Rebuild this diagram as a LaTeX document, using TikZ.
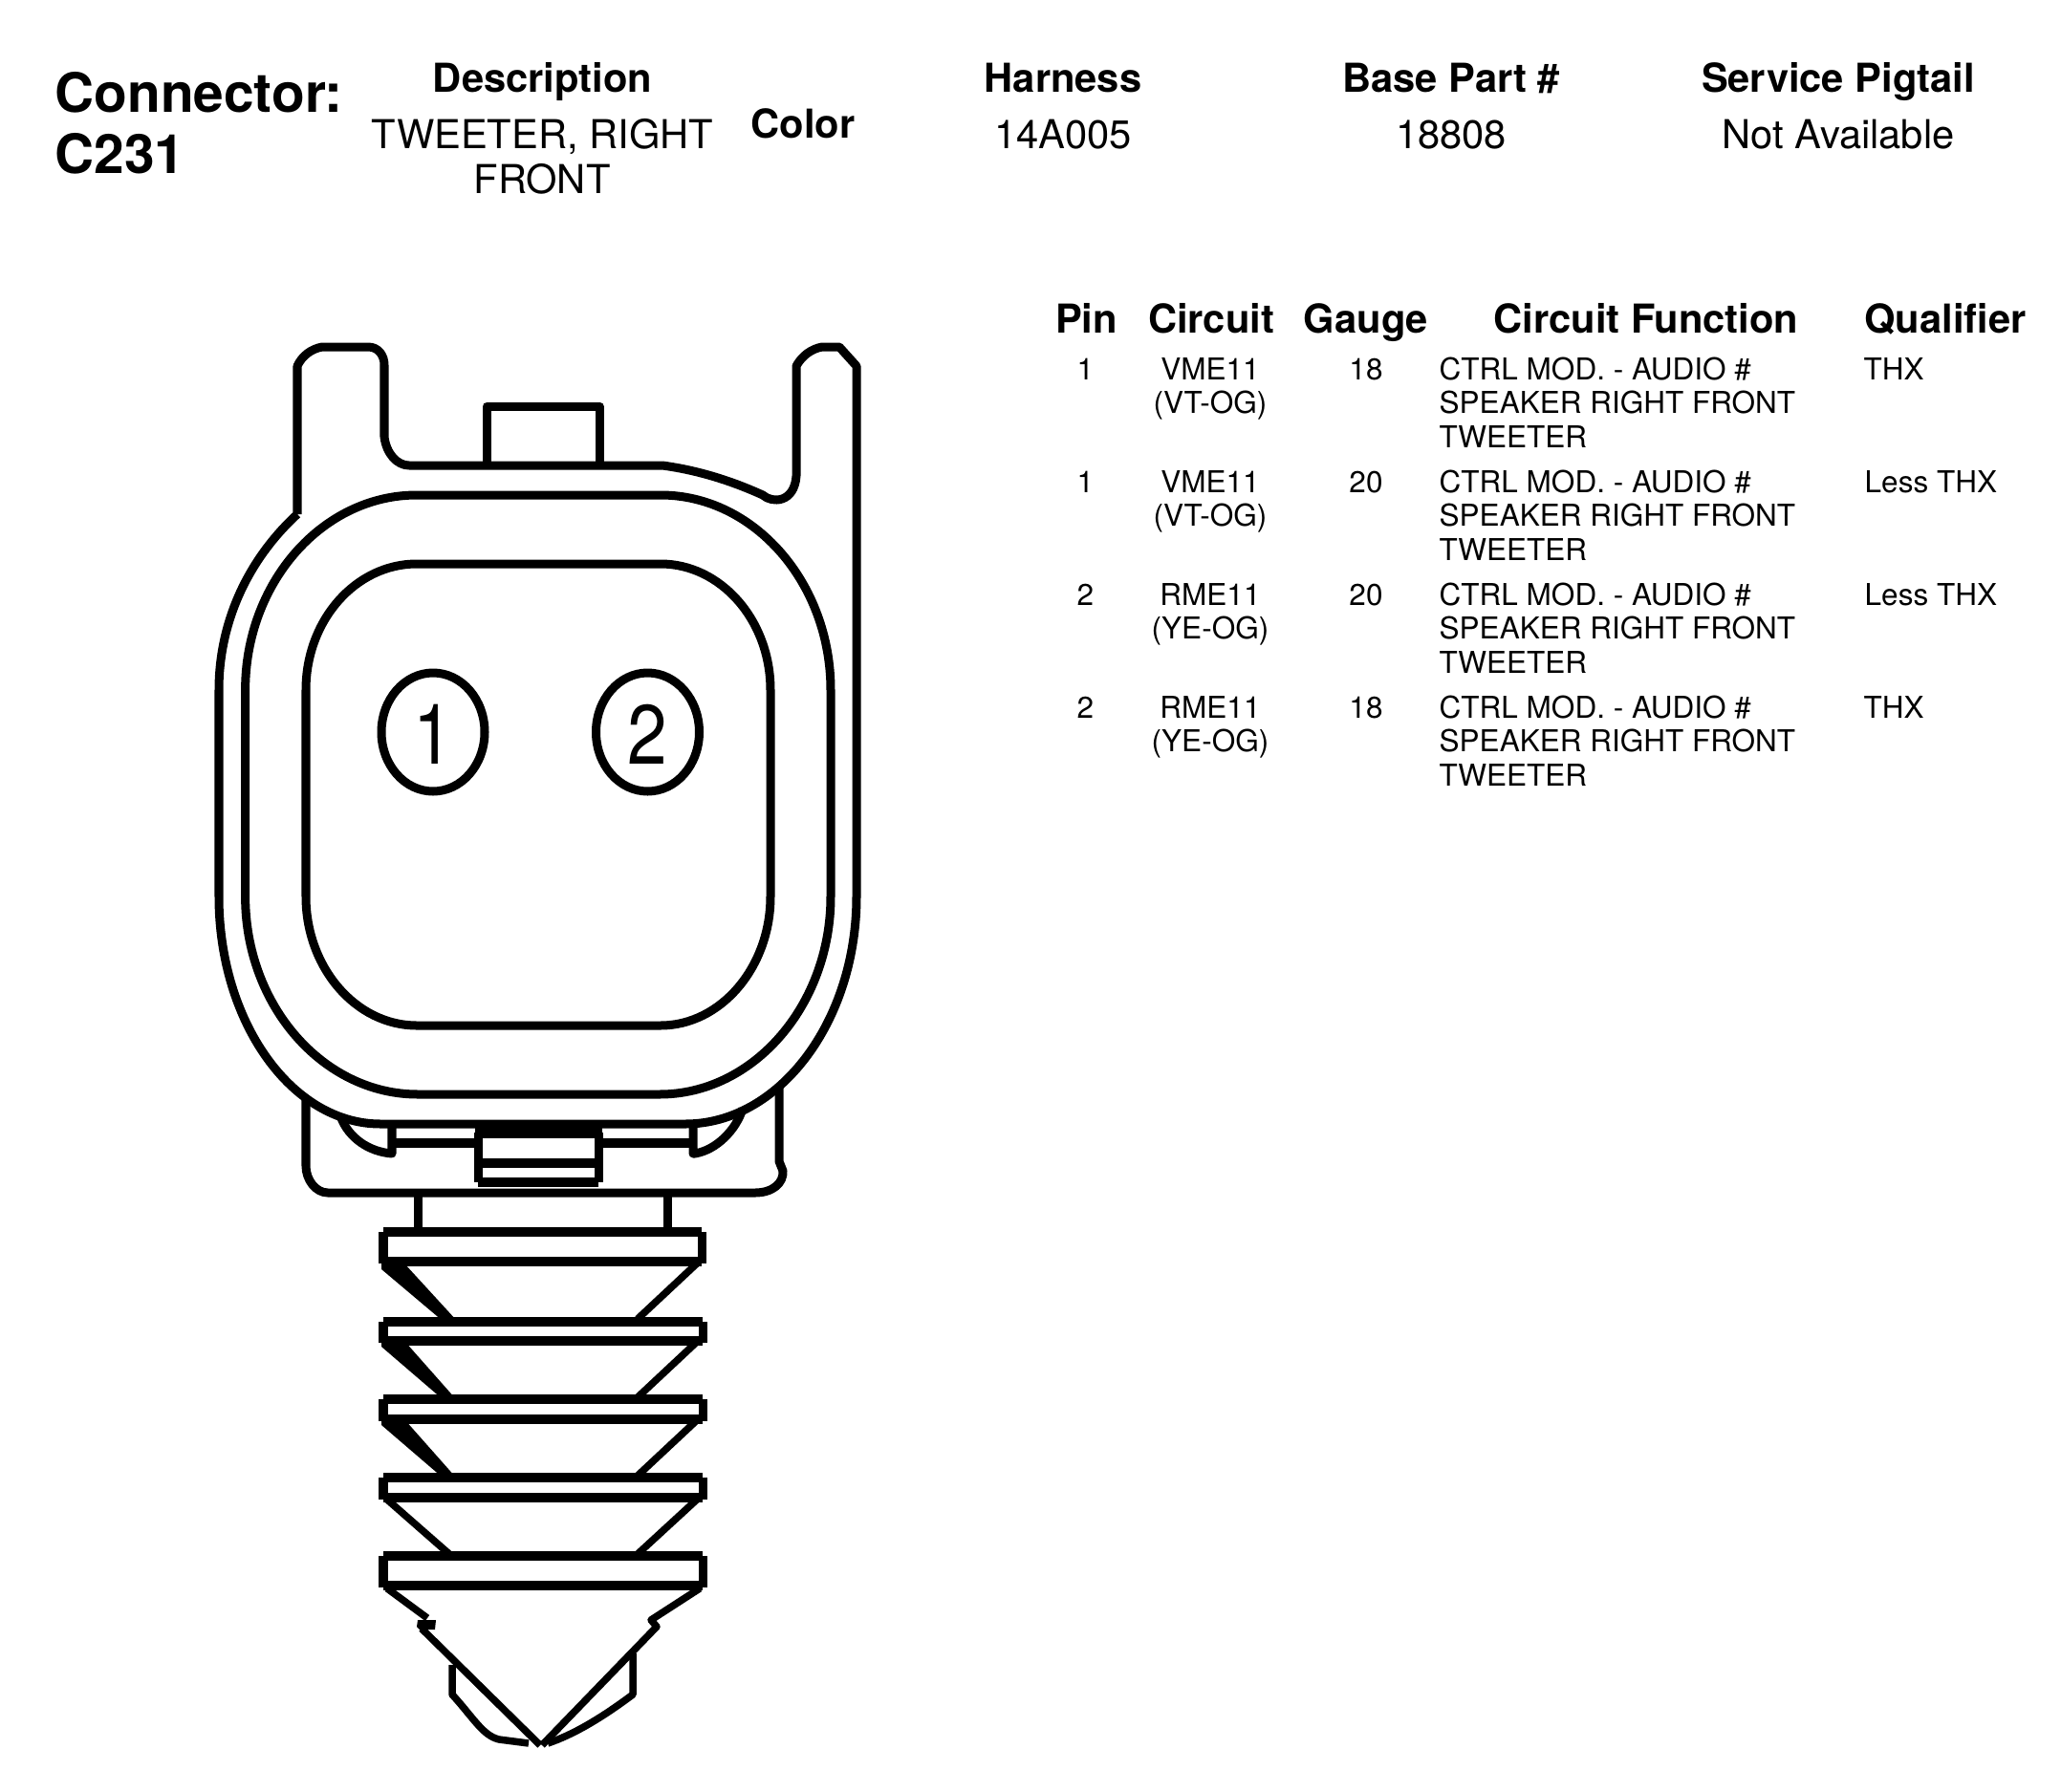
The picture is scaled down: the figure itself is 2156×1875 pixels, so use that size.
\documentclass[tikz,border=0pt]{standalone}
\usepackage{fontspec}
\usepackage{graphicx}
\setmainfont{TeX Gyre Heros}
\tikzset{
  x=0.01cm,y=-0.01cm,
  ln/.style={line width=0.09cm,line join=round,black},
  thk/.style={line width=0.1cm,black},
  thn/.style={line width=0.075cm,line join=round,black},
  title/.style={anchor=base west,inner sep=0,font=\fontsize{16.15}{18}\selectfont\bfseries},
  head/.style={anchor=base,inner sep=0,font=\fontsize{11.85}{14}\selectfont\bfseries},
  val/.style={anchor=base,inner sep=0,font=\fontsize{11.85}{14}\selectfont},
  cell/.style={anchor=base,inner sep=0,font=\fontsize{8.96}{11}\selectfont},
  lcell/.style={anchor=base west,inner sep=0,font=\fontsize{8.96}{11}\selectfont},
  digit/.style={anchor=base,inner sep=0,font=\fontsize{25}{27}\selectfont},
}
\begin{document}
\begin{tikzpicture}
\useasboundingbox (0,0) rectangle (2156,1875);
% header
\node[title] (tconn) at (57,117.5) {Connector:};
\node[title] (tc231) at (57,181) {C231};
\node[head] (hdesc) at (567.5,96) {Description};
\node[val] (vdesc1) at (567.5,155) {TWEETER, RIGHT};
\node[val] (vdesc2) at (567,202) {FRONT};
\node[head,anchor=base west] (hcolor) at (785,144.5) {Color};
\node[head] (hharn) at (1112,96) {Harness};
\node[val] (vharn) at (1112,155) {14A005};
\node[head] (hbase) at (1518,96) {Base Part \#};
\node[val] (vbase) at (1518,155) {18808};
\node[head] (hserv) at (1923,96) {Service Pigtail};
\node[val] (vserv) at (1923,155) {Not Available};
% table head
\node[head] (hpin) at (1136.5,348) {Pin};
\node[head] (hcir) at (1267,348) {Circuit};
\node[head] (hgau) at (1429,348) {Gauge};
\node[head] (hfun) at (1722,348) {Circuit Function};
\node[head] (hqua) at (2035,348) {Qualifier};
% rows
\node[cell] (p1) at (1135.5,397) {1};
\node[cell] (c1a) at (1266,397) {VME11};
\node[cell] (c1b) at (1266,432) {(VT-OG)};
\node[cell] (g1) at (1429,397) {18};
\node[lcell] (f1a) at (1505,397) {CTRL MOD. - AUDIO \#};
\node[lcell] (f1b) at (1505,432) {SPEAKER RIGHT FRONT};
\node[lcell] (f1c) at (1505,468) {TWEETER};
\node[lcell] (q1) at (1949,397) {THX};
\node[cell] (p2) at (1135.5,515.5) {1};
\node[cell] (c2a) at (1266,515.5) {VME11};
\node[cell] (c2b) at (1266,550) {(VT-OG)};
\node[cell] (g2) at (1429,515.5) {20};
\node[lcell] (f2a) at (1505,515.5) {CTRL MOD. - AUDIO \#};
\node[lcell] (f2b) at (1505,550) {SPEAKER RIGHT FRONT};
\node[lcell] (f2c) at (1505,586) {TWEETER};
\node[lcell] (q2) at (1950,515.5) {Less THX};
\node[cell] (p3) at (1135.5,633.5) {2};
\node[cell] (c3a) at (1266,633.5) {RME11};
\node[cell] (c3b) at (1266,668.5) {(YE-OG)};
\node[cell] (g3) at (1429,633.5) {20};
\node[lcell] (f3a) at (1505,633.5) {CTRL MOD. - AUDIO \#};
\node[lcell] (f3b) at (1505,668.5) {SPEAKER RIGHT FRONT};
\node[lcell] (f3c) at (1505,704) {TWEETER};
\node[lcell] (q3) at (1950,633.5) {Less THX};
\node[cell] (p4) at (1135.5,751.5) {2};
\node[cell] (c4a) at (1266,751.5) {RME11};
\node[cell] (c4b) at (1266,786.5) {(YE-OG)};
\node[cell] (g4) at (1429,751.5) {18};
\node[lcell] (f4a) at (1505,751.5) {CTRL MOD. - AUDIO \#};
\node[lcell] (f4b) at (1505,786.5) {SPEAKER RIGHT FRONT};
\node[lcell] (f4c) at (1505,822) {TWEETER};
\node[lcell] (q4) at (1949,751.5) {THX};
% connector housing: top tabs and right side
\draw[ln] (311,538) -- (311,383) .. controls (316,372) and (326,365) .. (337,363) -- (385,363)
  .. controls (396,363) and (402,372) .. (402,382) -- (402,457)
  .. controls (404,474) and (415,487) .. (428,487) -- (693,487)
  .. controls (730,492) and (765,503) .. (798,518)
  .. controls (808,527) and (831,526) .. (833,498) -- (833,383)
  .. controls (839,372) and (849,365) .. (860,363) -- (878,363) -- (896,383) -- (896,938)
  .. controls (896,1069) and (815,1176) .. (717,1176) -- (398,1176)
  .. controls (305,1176) and (229,1069) .. (229,938) -- (229,722)
  .. controls (229,650) and (260,585) .. (311,538);
% key
\draw[ln] (509,487) -- (509,425) -- (627,425) -- (627,487);
% middle shell
\draw[ln] (436,518) -- (691,518) .. controls (789,518) and (869,610) .. (869,722) -- (869,938)
  .. controls (869,1052) and (788,1145) .. (690,1145) -- (437,1145)
  .. controls (338,1145) and (256.6,1052) .. (256.6,938) -- (256.6,722)
  .. controls (256.6,610) and (337,518) .. (436,518) -- cycle;
% inner cavity
\draw[ln] (436,590) -- (691,590) .. controls (754,590) and (806,649) .. (806,722) -- (806,938)
  .. controls (806,1012) and (754,1073) .. (691,1073) -- (436,1073)
  .. controls (372,1073) and (320,1012) .. (320,938) -- (320,722)
  .. controls (320,649) and (372,590) .. (436,590) -- cycle;
% pins
\draw[ln] (453,766) ellipse [x radius=54,y radius=62];
\draw[ln] (677.5,766) ellipse [x radius=54,y radius=62];
\node[digit] (d1) at (453.5,799) {\scalebox{0.85}[1]{1}};
\node[digit] (d2) at (677,799) {\scalebox{0.85}[1]{2}};
% lower frame
\draw[ln] (320,1148) -- (320,1220) .. controls (320,1234) and (330,1248) .. (343,1248) -- (790,1248)
  .. controls (808,1248) and (820,1238) .. (819,1225) -- (815,1215) -- (815,1137);
\draw[ln] (357,1170) .. controls (365,1190) and (385,1205) .. (410,1207) -- (410,1180);
\draw[ln] (777,1160) .. controls (770,1182) and (750,1203) .. (727,1207) -- (725,1207) -- (725,1180);
\draw[thk] (410,1196) -- (497,1196);
\draw[thk] (630,1196) -- (725,1196);
\fill[black] (497,1172) rectangle (630,1191);
\draw[ln] (500,1185) -- (500,1237);
\draw[ln] (626,1185) -- (626,1237);
\draw[thk] (500,1217) -- (626,1217);
\draw[thk] (500,1237) -- (626,1237);
% stem
\draw[ln] (437,1250) -- (437,1285);
\draw[ln] (698,1250) -- (698,1285);
% rings
\draw[thk] (401,1289) -- (734,1289);
\draw[thk] (401,1320) -- (734,1320);
\draw[ln] (401,1289) -- (401,1322);
\draw[ln] (734,1289) -- (734,1322);
\draw[thk] (401,1383) -- (735,1383);
\draw[thk] (401,1403) -- (735,1403);
\draw[ln] (401,1383) -- (401,1405);
\draw[ln] (735,1383) -- (735,1405);
\draw[thk] (401,1464) -- (735,1464);
\draw[thk] (401,1485) -- (735,1485);
\draw[ln] (401,1464) -- (401,1487);
\draw[ln] (735,1464) -- (735,1487);
\draw[thk] (401,1546) -- (735,1546);
\draw[thk] (401,1567) -- (735,1567);
\draw[ln] (401,1546) -- (401,1569);
\draw[ln] (735,1546) -- (735,1569);
\draw[thk] (401,1628) -- (735,1628);
\draw[thk] (401,1659) -- (735,1659);
\draw[ln] (401,1628) -- (401,1661);
\draw[ln] (735,1628) -- (735,1661);
% cones
\fill[black] (399,1322) -- (423,1322) -- (478,1382) -- (463,1382) -- (399,1328) -- cycle;
\draw[thn] (729,1322) -- (667,1380);
\fill[black] (399,1403) -- (423,1403) -- (477,1464) -- (463,1464) -- (399,1409) -- cycle;
\draw[thn] (729,1404) -- (667,1462);
\fill[black] (399,1485) -- (423,1485) -- (477,1546) -- (463,1546) -- (399,1491) -- cycle;
\draw[thn] (729,1486) -- (667,1544);
\draw[thn] (405,1569) -- (470,1626);
\draw[thn] (729,1569) -- (667,1626);
% tip
\draw[thn] (405,1662) -- (447,1693);
\fill[black] (437,1695) -- (456,1695) -- (455,1705) -- (448,1705) -- (444,1710) -- (436,1702) -- cycle;
\draw[thn] (441,1704) -- (565,1826);
\draw[thn] (732,1662) -- (681,1695) -- (687,1702) -- (567,1826);
\draw[thn] (473,1742) -- (473,1773) .. controls (495,1797) and (505,1816) .. (522,1820) -- (553,1824);
\draw[thn] (662,1730) -- (662,1773) .. controls (630,1797) and (600,1815) .. (573,1824);
\end{tikzpicture}
\end{document}
